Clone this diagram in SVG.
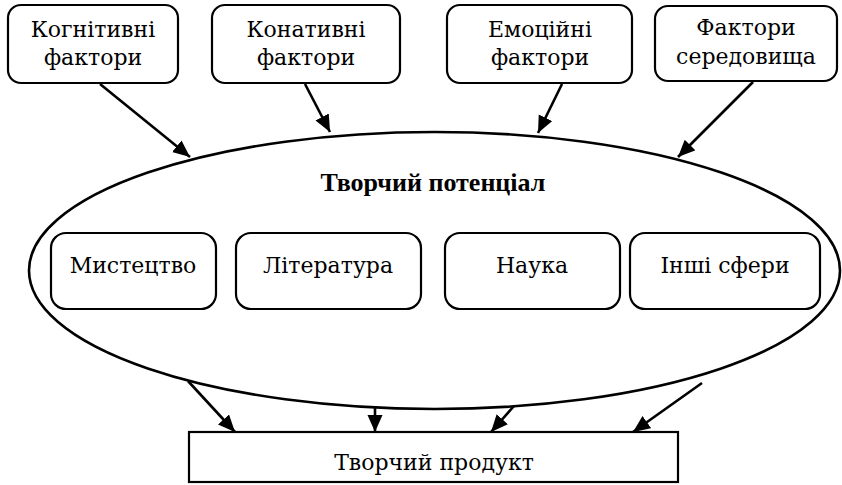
<svg xmlns="http://www.w3.org/2000/svg" width="842" height="485" viewBox="0 0 842 485">
<style>
.box{fill:#fff;stroke:#000;stroke-width:2.2}
.t{font-family:'DejaVu Serif','Liberation Serif',serif;font-size:22px;fill:#000;text-anchor:middle}
.b{font-family:'Liberation Serif','DejaVu Serif',serif;font-weight:bold;font-size:26px}
.c{stroke:#000;stroke-width:2.6;fill:none;marker-end:url(#ah)}
</style>
<defs>
<marker id="ah" markerUnits="userSpaceOnUse" markerWidth="18" markerHeight="16" refX="17" refY="7.5" orient="auto">
<path d="M0,0 L17,7.5 L0,15 z" fill="#000"/>
</marker>
</defs>
<rect width="842" height="485" fill="#fff"/>
<g id="potential">
<ellipse cx="434.5" cy="270.5" rx="405.5" ry="138.5" fill="none" stroke="#000" stroke-width="2.6"/>
<text class="t b" x="433" y="191">Творчий потенціал</text>
</g>
<g id="cognitive"><rect class="box" x="8" y="5" width="170" height="78" rx="13"/><text class="t" x="93" y="37">Когнітивні</text><text class="t" x="93" y="65">фактори</text></g>
<g id="conative"><rect class="box" x="212" y="5" width="188" height="78" rx="13"/><text class="t" x="306" y="37">Конативні</text><text class="t" x="306" y="65">фактори</text></g>
<g id="emotional"><rect class="box" x="447" y="5" width="185" height="78" rx="13"/><text class="t" x="540" y="37">Емоційні</text><text class="t" x="540" y="65">фактори</text></g>
<g id="environment"><rect class="box" x="655" y="6" width="182" height="75" rx="13"/><text class="t" x="746" y="35">Фактори</text><text class="t" x="746" y="64">середовища</text></g>
<g id="art"><rect class="box" x="51" y="233" width="165" height="76" rx="15"/><text class="t" x="133" y="273">Мистецтво</text></g>
<g id="literature"><rect class="box" x="236" y="233" width="185" height="76" rx="15"/><text class="t" x="328" y="273">Література</text></g>
<g id="science"><rect class="box" x="445" y="233" width="175" height="76" rx="15"/><text class="t" x="532" y="273">Наука</text></g>
<g id="other"><rect class="box" x="630" y="233" width="190" height="76" rx="15"/><text class="t" x="725" y="273">Інші сфери</text></g>
<g id="product"><rect x="189" y="432" width="489" height="50" fill="#fff" stroke="#000" stroke-width="2.2"/><text class="t" x="434" y="470">Творчий продукт</text></g>
<g id="connectors">
<line class="c" x1="100" y1="84" x2="190" y2="157"/>
<line class="c" x1="305" y1="84" x2="330" y2="132"/>
<line class="c" x1="562" y1="84" x2="538" y2="133"/>
<line class="c" x1="753" y1="82" x2="678" y2="157"/>
<line class="c" x1="188" y1="381" x2="235" y2="432"/>
<line class="c" x1="375" y1="408" x2="375" y2="432"/>
<line class="c" x1="514" y1="406" x2="491" y2="432"/>
<line class="c" x1="702" y1="383" x2="633" y2="432"/>
</g>
</svg>
